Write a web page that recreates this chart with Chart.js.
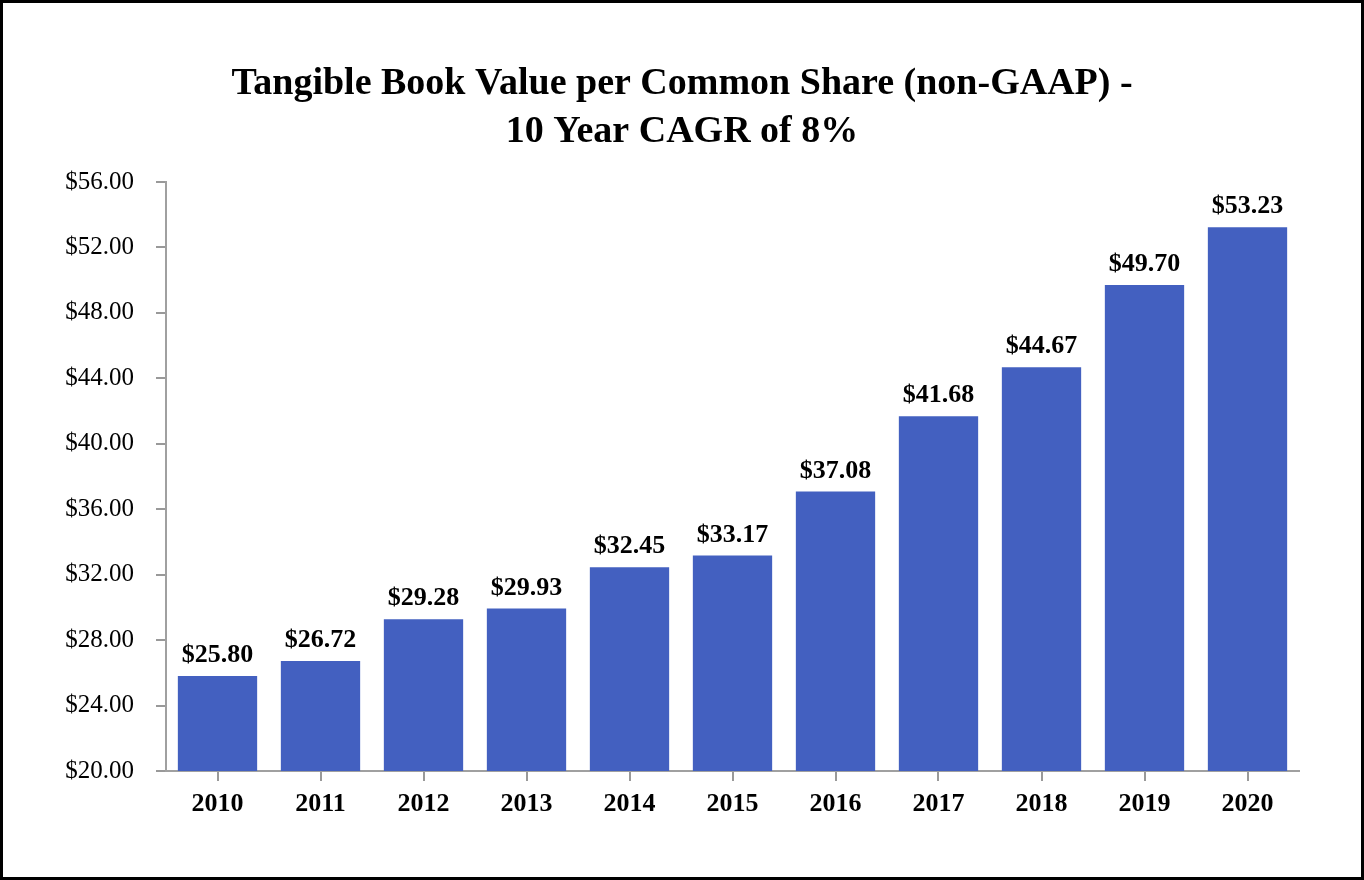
<!DOCTYPE html>
<html>
<head>
<meta charset="utf-8">
<script src="https://cdn.jsdelivr.net/npm/chart.js@4.4.1/dist/chart.umd.min.js"></script>
<style>
  html, body { margin: 0; padding: 0; background: #fff; }
  #frame { position: absolute; left: 0; top: 0; width: 1364px; height: 880px; box-sizing: border-box; border: 3px solid #000; background: #fff; }
  #c { display: block; }
</style>
</head>
<body>
<div id="frame"><canvas id="c" width="1358" height="874"></canvas></div>
<script>
const titleLines = ['Tangible Book Value per Common Share (non-GAAP) -', '10 Year CAGR of 8%'];
const years = ['2010', '2011', '2012', '2013', '2014', '2015', '2016', '2017', '2018', '2019', '2020'];
const tbvps = [25.80, 26.72, 29.28, 29.93, 32.45, 33.17, 37.08, 41.68, 44.67, 49.70, 53.23];
const yMin = 20, yMax = 56, yStep = 4;

const SERIF = '"Liberation Serif", "Times New Roman", Times, serif';

const valueLabels = {
  id: 'valueLabels',
  afterDatasetsDraw(chart) {
    const ctx = chart.ctx;
    const meta = chart.getDatasetMeta(0);
    ctx.save();
    ctx.font = 'bold 26px ' + SERIF;
    ctx.fillStyle = '#000';
    ctx.textAlign = 'center';
    ctx.textBaseline = 'alphabetic';
    meta.data.forEach((bar, i) => {
      const v = chart.data.datasets[0].data[i];
      ctx.fillText('$' + v.toFixed(2), bar.x, bar.y - 14);
    });
    ctx.restore();
  }
};

new Chart(document.getElementById('c'), {
  type: 'bar',
  data: {
    labels: years,
    datasets: [{
      data: tbvps,
      backgroundColor: '#4360C0',
      borderWidth: 0,
      barPercentage: 0.77,
      categoryPercentage: 1.0,
      yAxisID: 'y'
    }]
  },
  options: {
    responsive: false,
    devicePixelRatio: 1,
    animation: false,
    layout: { padding: { left: 0, right: 0, top: 0, bottom: 0 } },
    plugins: {
      legend: { display: false },
      tooltip: { enabled: false },
      title: {
        display: true,
        text: titleLines,
        color: '#000',
        font: { family: SERIF, size: 38, weight: 'bold', lineHeight: 1.263 },
        padding: { top: 57, bottom: 26 }
      }
    },
    scales: {
      x: {
        grid: { display: true, drawOnChartArea: false, drawTicks: true, tickLength: 10, offset: false, color: '#999', lineWidth: 2 },
        border: { display: true, color: '#a0a0a0', width: 2 },
        ticks: { color: '#000', font: { family: SERIF, size: 26, weight: 'bold' }, padding: 8, maxRotation: 0 },
        afterFit(scale) { scale.height = 106; }
      },
      y: {
        min: yMin, max: yMax,
        grid: { display: true, drawOnChartArea: false, drawTicks: true, tickLength: 10, color: '#999', lineWidth: 2 },
        border: { display: true, color: '#a0a0a0', width: 2 },
        ticks: {
          stepSize: yStep,
          color: '#000',
          font: { family: SERIF, size: 25 },
          padding: 22,
          callback: (v) => '$' + Number(v).toFixed(2)
        },
        afterFit(scale) { scale.width = 163; }
      },
      rightSpace: {
        type: 'linear',
        position: 'right',
        display: true,
        grid: { display: false, drawTicks: false },
        border: { display: false },
        ticks: { display: false },
        afterFit(scale) { scale.width = 62; }
      }
    }
  },
  plugins: [valueLabels]
});
</script>
</body>
</html>
